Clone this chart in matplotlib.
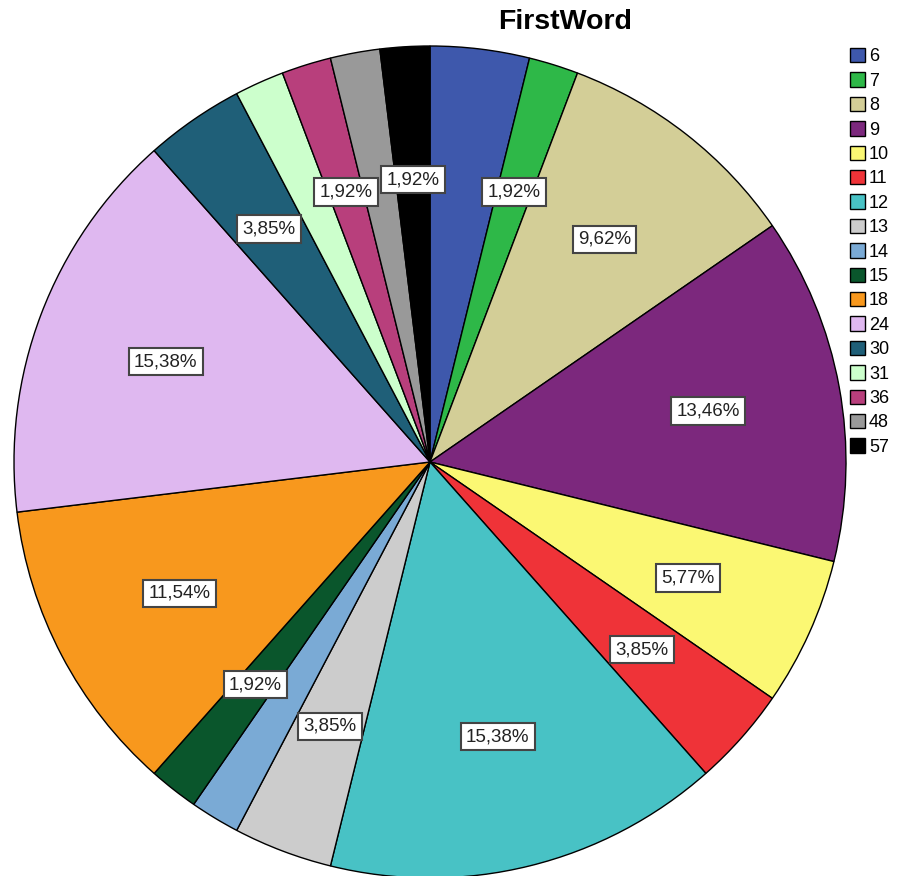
import matplotlib
matplotlib.use("Agg")
import matplotlib.pyplot as plt
import numpy as np

plt.rcParams["font.family"] = ["Liberation Sans", "DejaVu Sans"]

# FirstWord frequencies (n = 52)
categories = ["6", "7", "8", "9", "10", "11", "12", "13", "14", "15",
              "18", "24", "30", "31", "36", "48", "57"]
counts = [2, 1, 5, 7, 3, 2, 8, 2, 1, 1, 6, 8, 2, 1, 1, 1, 1]
# slices whose percentage label is printed
show_label = [False, True, True, True, True, True, True, True, False, True,
              True, True, True, False, True, False, True]
colors = ["#3e58ac", "#2eb848", "#d3ce97", "#7c287d", "#fbf873", "#ef3338",
          "#48c2c5", "#cccccc", "#7aaad5", "#0a562c", "#f8981d", "#dfb8f0",
          "#1f5f78", "#ccffcc", "#b83f7c", "#999999", "#000000"]

W, H, R, CX, CY = 901, 876, 416, 430, 462

fig = plt.figure(figsize=(W / 100, H / 100), dpi=100)
ax = fig.add_axes([(CX - R) / W, (H - CY - R) / H, 2 * R / W, 2 * R / H])

wedges, _ = ax.pie(counts, colors=colors, startangle=90, counterclock=False,
                   radius=1, wedgeprops=dict(edgecolor="black", linewidth=1.0))
# pie() resets the limits, so pin them afterwards
ax.set_xlim(-1, 1)
ax.set_ylim(-1, 1)
ax.set_aspect("equal")
ax.axis("off")

total = sum(counts)
for w, n, show in zip(wedges, counts, show_label):
    if not show:
        continue
    mid = np.deg2rad((w.theta1 + w.theta2) / 2)
    ax.text(0.68 * np.cos(mid), 0.68 * np.sin(mid),
            f"{100 * n / total:.2f}%".replace(".", ","),
            ha="center", va="center", fontsize=13.5, color="#222222",
            bbox=dict(boxstyle="square,pad=0.28", facecolor="white",
                      edgecolor="#444444", linewidth=1.5))

fig.text(565 / W, 1 - 22 / H, "FirstWord", ha="center", va="center",
         fontsize=20.5, fontweight="bold")

fig.legend(wedges, categories, loc="upper left",
           bbox_to_anchor=(850 / W, 1 - 48 / H), frameon=False,
           fontsize=13, handlelength=0.85, handleheight=0.85,
           handletextpad=0.2, labelspacing=0.385, borderpad=0, borderaxespad=0)

fig.savefig("out.png", dpi=100)
